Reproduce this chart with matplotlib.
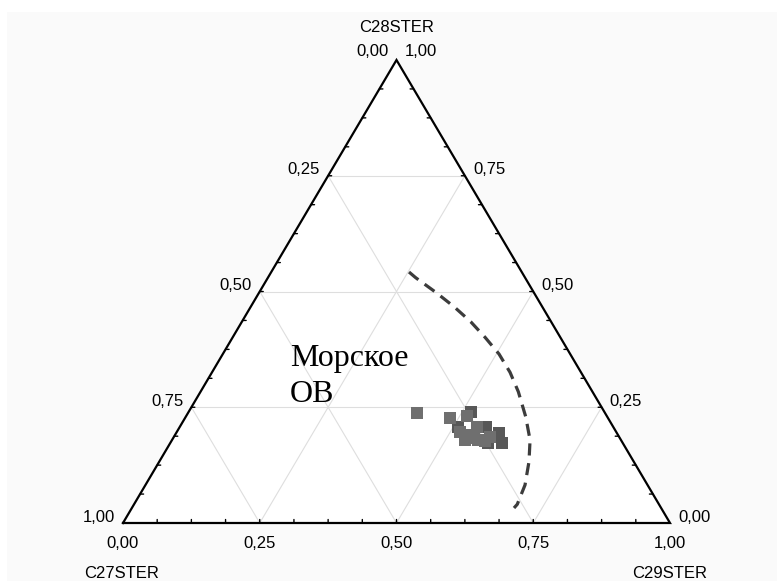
import matplotlib
matplotlib.use("Agg")
import matplotlib.pyplot as plt
from matplotlib.patches import Polygon
import numpy as np

# ---- data (ternary fractions) ----
axis_names = ["C27STER", "C28STER", "C29STER"]
tick_values = [0.0, 0.25, 0.5, 0.75, 1.0]
tick_labels = ["0,00", "0,25", "0,50", "0,75", "1,00"]

# light grey samples: (C28, C29); C27 = 1 - C28 - C29
light_c28 = [0.2376, 0.2268, 0.2311, 0.1965, 0.1793, 0.2073, 0.1793, 0.1901, 0.1857, 0.1771, 0.1830]
light_c29 = [0.4187, 0.4844, 0.5133, 0.5178, 0.5356, 0.5435, 0.5594, 0.5393, 0.5781, 0.5732, 0.5500]
# darker samples
dark_c28 = [0.2397, 0.2073, 0.2073, 0.1728, 0.1728, 0.1950]
dark_c29 = [0.5163, 0.5088, 0.5600, 0.5809, 0.6065, 0.5900]

# dashed boundary curve (C28, C29)
curve_c28 = [0.5421, 0.5298, 0.4983, 0.4672, 0.4348, 0.4011, 0.3650, 0.3255,
             0.2836, 0.2296, 0.1793, 0.1324, 0.0821, 0.0404, 0.0324]
curve_c29 = [0.2518, 0.2702, 0.3226, 0.3715, 0.4182, 0.4613, 0.5049, 0.5448,
             0.5809, 0.6214, 0.6545, 0.6760, 0.6939, 0.7006, 0.6986]

annotation_lines = ["Морское", "ОВ"]


def tern(c28, c29):
    c28 = np.asarray(c28, float)
    c29 = np.asarray(c29, float)
    return c29 + c28 / 2.0, c28


W, H = 777, 581
fig = plt.figure(figsize=(W / 100, H / 100), dpi=100)
fig.patch.set_facecolor("white")

bg = fig.add_axes([7 / W, 0, 1 - 7 / W, (H - 12) / H], zorder=-5)
bg.set_facecolor("#fafafa")
bg.set_xticks([])
bg.set_yticks([])
for s in bg.spines.values():
    s.set_visible(False)

ax = fig.add_axes([123 / W, 58 / H, 547 / W, 463 / H], zorder=1)
ax.set_xlim(0, 1)
ax.set_ylim(0, 1)
ax.axis("off")

# triangle interior
ax.add_patch(Polygon([[0, 0], [1, 0], [0.5, 1]], closed=True, facecolor="white",
                     edgecolor="none", zorder=0))

# grid lines
gc = "#dedede"
for v in [0.25, 0.5, 0.75]:
    x0, y0 = tern(v, 0)
    x1, y1 = tern(v, 1 - v)
    ax.plot([x0, x1], [y0, y1], color=gc, lw=0.8, zorder=1)
    x0, y0 = tern(0, v)
    x1, y1 = tern(1 - v, v)
    ax.plot([x0, x1], [y0, y1], color=gc, lw=0.8, zorder=1)
    x0, y0 = tern(0, 1 - v)
    x1, y1 = tern(1 - v, 0)
    ax.plot([x0, x1], [y0, y1], color=gc, lw=0.8, zorder=1)

# triangle edges
ax.plot([0, 1, 0.5, 0], [0, 0, 1, 0], color="black", lw=1.6, zorder=5,
        solid_joinstyle="miter", clip_on=False)

# small ticks every 1/16
tl = 3.5
pt = 0.72
for k in range(1, 16):
    f = k / 16
    x, y = tern(0, f)
    ax.annotate("", xy=(x, y), xytext=(0, tl * pt), textcoords="offset points",
                arrowprops=dict(arrowstyle="-", lw=1.0, color="black", shrinkA=0, shrinkB=0))
    x, y = tern(f, 0)
    ax.annotate("", xy=(x, y), xytext=(tl * pt, 0), textcoords="offset points",
                arrowprops=dict(arrowstyle="-", lw=1.0, color="black", shrinkA=0, shrinkB=0))
    x, y = tern(f, 1 - f)
    ax.annotate("", xy=(x, y), xytext=(-tl * pt, 0), textcoords="offset points",
                arrowprops=dict(arrowstyle="-", lw=1.0, color="black", shrinkA=0, shrinkB=0))

# tick labels
fs = 12
fam = "Liberation Sans"
for v, lab in zip(tick_values, tick_labels):
    x, y = tern(0, v)
    ax.annotate(lab, xy=(x, y), xytext=(0, -20 * pt), textcoords="offset points",
                ha="center", va="center", fontsize=fs, family=fam)
    x, y = tern(1 - v, 0)
    dy = 8 if v == 0 else 6
    ax.annotate(lab, xy=(x, y), xytext=(-8 * pt, dy * pt), textcoords="offset points",
                ha="right", va="center", fontsize=fs, family=fam)
    x, y = tern(v, 1 - v)
    dy = 8 if v == 1 else 6
    ax.annotate(lab, xy=(x, y), xytext=(8 * pt, dy * pt), textcoords="offset points",
                ha="left", va="center", fontsize=fs, family=fam)

# axis names
ax.annotate(axis_names[1], xy=(0.5, 1), xytext=(0, 33 * pt), textcoords="offset points",
            ha="center", va="center", fontsize=fs, family=fam)
ax.annotate(axis_names[0], xy=(0, 0), xytext=(-1 * pt, -50 * pt), textcoords="offset points",
            ha="center", va="center", fontsize=fs, family=fam)
ax.annotate(axis_names[2], xy=(1, 0), xytext=(0, -50 * pt), textcoords="offset points",
            ha="center", va="center", fontsize=fs, family=fam)

# dashed curve
cx, cy = tern(curve_c28, curve_c29)
ax.plot(cx, cy, color="#3c3c3c", lw=2.3, linestyle=(0, (3.8, 2.4)), zorder=6,
        dash_capstyle="butt", solid_joinstyle="round")

# points
dx, dy_ = tern(dark_c28, dark_c29)
ax.plot(dx, dy_, linestyle="none", marker="s", markersize=9.3, markeredgewidth=0,
        color="#585858", zorder=7)
lx, ly = tern(light_c28, light_c29)
ax.plot(lx, ly, linestyle="none", marker="s", markersize=9.3, markeredgewidth=0,
        color="#6f6f6f", zorder=8)

# annotation text
ax.text((290 - 123) / 547, (523 - 366) / 463, annotation_lines[0], fontsize=23,
        family="Liberation Serif", ha="left", va="baseline", zorder=9)
ax.text((290 - 123) / 547, (523 - 402) / 463, annotation_lines[1], fontsize=23,
        family="Liberation Serif", ha="left", va="baseline", zorder=9)

fig.savefig("out.png", dpi=100, facecolor=fig.get_facecolor())
